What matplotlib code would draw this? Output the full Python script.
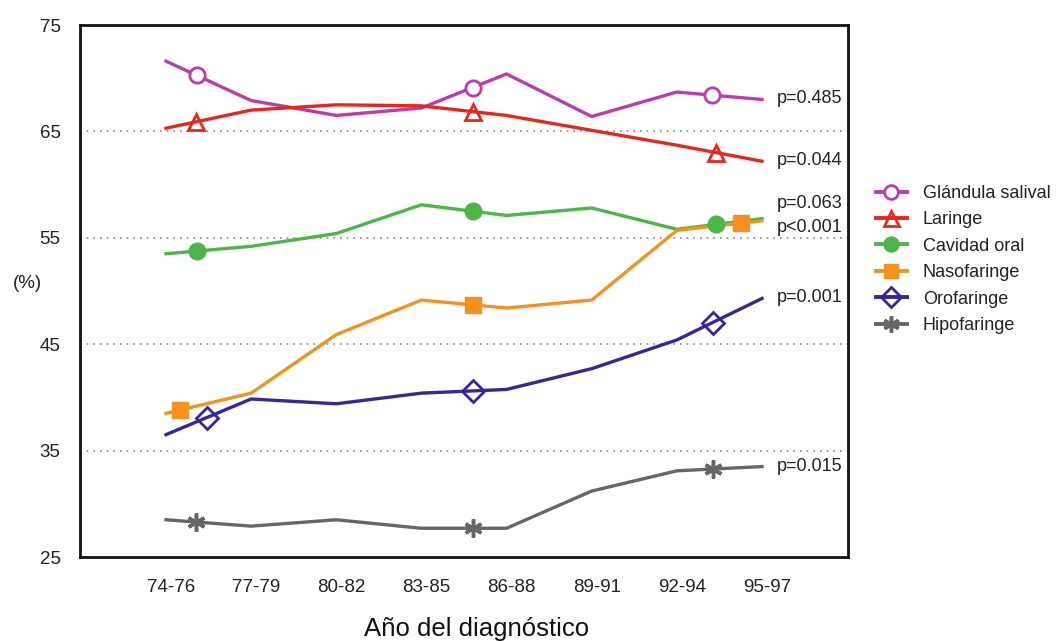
import numpy as np
import matplotlib
matplotlib.use("Agg")
import matplotlib.pyplot as plt
from matplotlib.lines import Line2D

plt.rcParams['font.family'] = ['Liberation Sans', 'DejaVu Sans']

# Periodos de diagnóstico
periods = ['74-76', '77-79', '80-82', '83-85', '86-88', '89-91', '92-94', '95-97']

# Supervivencia relativa (%) por localización
salival = [71.6, 67.9, 66.5, 67.2, 70.4, 66.4, 68.7, 68.0]
laringe = [65.3, 67.0, 67.5, 67.4, 66.5, 65.1, 63.7, 62.2]
oral = [53.5, 54.2, 55.4, 58.1, 57.1, 57.8, 55.8, 56.8]
nasofaringe = [38.5, 40.4, 45.9, 49.15, 48.4, 49.15, 55.7, 56.6]
orofaringe = [36.5, 39.85, 39.4, 40.4, 40.75, 42.7, 45.4, 49.3]
hipofaringe = [28.5, 27.9, 28.5, 27.7, 27.7, 31.2, 33.1, 33.5]

names = ['Glándula salival', 'Laringe', 'Cavidad oral',
         'Nasofaringe', 'Orofaringe', 'Hipofaringe']

# p de tendencia, escritas al final de cada serie
p_labels = ['p=0.485', 'p=0.044', 'p=0.063', 'p<0.001', 'p=0.001', 'p=0.015']
p_label_y = [68.1, 62.3, 58.2, 56.0, 49.4, 33.55]

# where each series shows its symbols along the line
marker_x = [
    [0.36, 3.6, 6.41],
    [0.35, 3.6, 6.46],
    [0.36, 3.6, 6.46],
    [0.16, 3.6, 6.75],
    [0.48, 3.6, 6.42],
    [0.35, 3.6, 6.42],
]

styles = [
    dict(color='#bf3aaa', marker='o', mfc='white', ms=11, mew=2),
    dict(color='#e8261c', marker='^', mfc='none', ms=12, mew=2),
    dict(color='#4cb648', marker='o', mfc='#4cb648', ms=12, mew=1),
    dict(color='#f7901e', marker='s', mfc='#f7901e', ms=11, mew=1),
    dict(color='#38259a', marker='D', mfc='none', ms=11, mew=2),
    dict(color='#666666', marker=(6, 2, 0), mfc='none', ms=13, mew=2.5),
]

series = [salival, laringe, oral, nasofaringe, orofaringe, hipofaringe]

fig = plt.figure(figsize=(10.6, 6.42), dpi=100)
ax = fig.add_axes([80 / 1060, 85 / 642, 768 / 1060, 532 / 642])

x = np.arange(len(periods))
handles = []
for vals, mx, st in zip(series, marker_x, styles):
    ax.plot(x, vals, color=st['color'], lw=2.4, solid_joinstyle='round', zorder=3)
    my = np.interp(mx, x, vals)
    ax.plot(mx, my, ls='none', marker=st['marker'], ms=st['ms'],
            mfc=st['mfc'], mec=st['color'], mew=st['mew'], zorder=4)
    handles.append(Line2D([], [], color=st['color'], lw=2.8, marker=st['marker'],
                          ms=st['ms'] * 0.9, mfc=st['mfc'], mec=st['color'],
                          mew=st['mew']))

for lab, ly in zip(p_labels, p_label_y):
    ax.text(7.17, ly, lab, fontsize=13, va='center', ha='left', color='#222222')

ax.set_xlim(-1.01, 8.01)
ax.set_ylim(25, 75)
ax.set_yticks(np.arange(25, 76, 10))
ax.set_xticks(x + 0.06)
ax.set_xticklabels(periods)
ax.tick_params(axis='both', length=0, labelsize=13.5, colors='#222222')
ax.tick_params(axis='y', pad=14)
ax.tick_params(axis='x', pad=16)

for yv in [35, 45, 55, 65]:
    ax.axhline(yv, color='#888888', lw=1.2, ls=(0, (1, 3)), zorder=1)

for sp in ax.spines.values():
    sp.set_linewidth(2)
    sp.set_color('#111111')

fig.text(13 / 1060, 1 - 283 / 642, '(%)', fontsize=13.5, va='center', ha='left',
         color='#222222')
fig.text(477 / 1060, 1 - 629 / 642, 'Año del diagnóstico', fontsize=18.5,
         va='center', ha='center', color='#111111')

fig.legend(handles, names, loc='upper left', bbox_to_anchor=(876 / 1060, 1 - 185 / 642),
           frameon=False, fontsize=13, handlelength=1.7, handletextpad=0.9,
           labelspacing=0.52, borderpad=0, borderaxespad=0, labelcolor='#222222')

fig.savefig('out.png', dpi=100)
